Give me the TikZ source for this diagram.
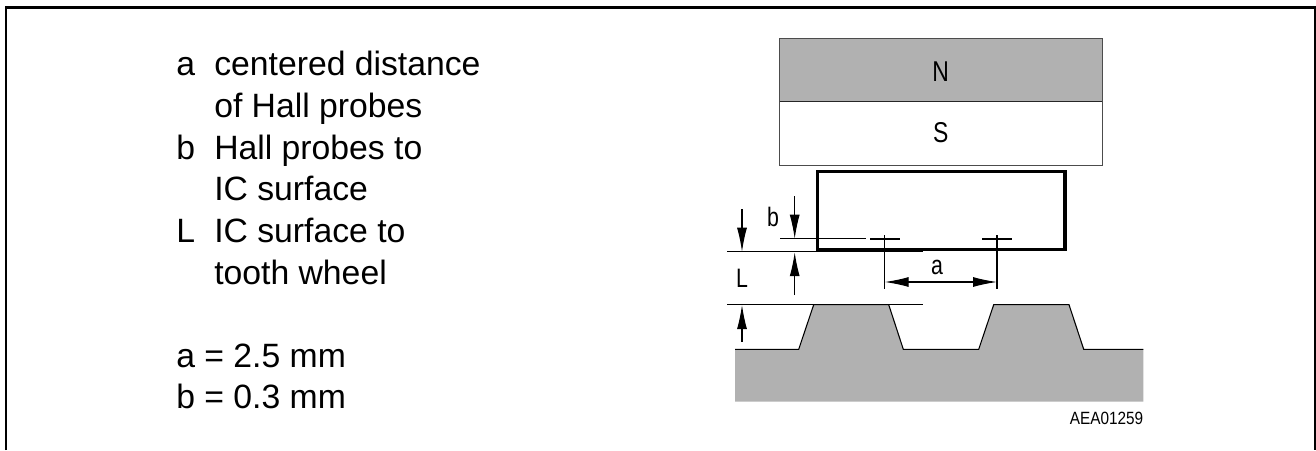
\documentclass[tikz,border=0pt]{standalone}
\usepackage{fontspec}
\setmainfont{Liberation Sans}
\usetikzlibrary{arrows.meta}
\definecolor{fillgray}{HTML}{B1B1B1}
\tikzset{
  legend/.style={anchor=base west,inner sep=0pt,font=\fontsize{25.3pt}{30pt}\selectfont},
  tag/.style={anchor=center,inner sep=0pt,transform shape,xscale=.8,font=\fontsize{20pt}{24pt}\selectfont},
  poletag/.style={anchor=center,inner sep=0pt,transform shape,xscale=.8,font=\fontsize{21.5pt}{26pt}\selectfont},
  code/.style={anchor=base east,inner sep=0pt,transform shape,xscale=.865,font=\fontsize{13.3pt}{16pt}\selectfont},
  thin line/.style={line width=.8pt,line cap=butt},
  dim/.style={thin line,-{Latex[length=18pt,width=7.5pt]}},
  dimboth/.style={thin line,{Latex[length=18pt,width=7.5pt]}-{Latex[length=18pt,width=7.5pt]}},
  magnet/.style={draw=black!70,line width=.7pt},
  icbox/.style={draw=black,line width=2.3pt},
}
\begin{document}
\begin{tikzpicture}[x=.75pt,y=-.75pt]
\useasboundingbox (0,0) rectangle (1316,450);
% frame, open at the bottom
\draw[line width=1.7pt,line join=miter] (6,450) -- (6,7.5) -- (1315,7.5) -- (1315,450);
% legend
\node[legend] (ka) at (176,75.7) {a};
\node[legend] (ta1) at (214,75.7) {centered distance};
\node[legend] (ta2) at (214,117.3) {of Hall probes};
\node[legend] (kb) at (176,159) {b};
\node[legend] (tb1) at (214,159) {Hall probes to};
\node[legend] (tb2) at (214,200.7) {IC surface};
\node[legend] (kl) at (176,242.7) {L};
\node[legend] (tl1) at (214,242.7) {IC surface to};
\node[legend] (tl2) at (214,284) {tooth wheel};
\node[legend] (va) at (176,367.7) {a = 2.5 mm};
\node[legend] (vb) at (176,408.7) {b = 0.3 mm};
% magnet
\draw[magnet,fill=fillgray] (779.5,38) rectangle (1102,101.7);
\draw[magnet,fill=white] (779.5,101.7) rectangle (1102,165.3);
\draw[line width=.9pt,black!85] (779.5,101.7) -- (1102,101.7);
\node[poletag] (n) at (940.7,71.5) {N};
\node[poletag] (s) at (940.7,133) {S};
% tooth wheel
\fill[fillgray] (735,349.3) -- (798.7,349.3) -- (813.7,304.7) -- (888.7,304.7) -- (903.3,349.3)
  -- (978.7,349.3) -- (993.7,304.7) -- (1069,304.7) -- (1083.7,349.3) -- (1143.3,349.3)
  -- (1143.3,401.7) -- (735,401.7) -- cycle;
\draw[thin line] (735,349.3) -- (798.7,349.3) -- (813.7,304.7) -- (888.7,304.7) -- (903.3,349.3)
  -- (978.7,349.3) -- (993.7,304.7) -- (1069,304.7) -- (1083.7,349.3) -- (1143.3,349.3);
% IC
\draw[icbox] (817.3,171.3) rectangle (1065,249.3);
% reference lines
\draw[thin line] (780,238.7) -- (865.7,238.7);
\draw[thin line] (727,251.7) -- (923,251.7);
\draw[thin line] (727,304.5) -- (923,304.5);
% probes
\draw[line width=1.3pt] (870,238.7) -- (900,238.7);
\draw[line width=1.3pt] (982.3,238.7) -- (1012.3,238.7);
\draw[thin line] (884.7,235.3) -- (884.7,289);
\draw[thin line] (997,235.3) -- (997,289);
% dimension arrows
\coordinate (a1) at (884.7,282);
\coordinate (a2) at (997,282);
\draw[dimboth] (a1) -- (a2);
\coordinate (bt) at (794.7,196);
\coordinate (bh) at (794.7,238.7);
\draw[dim] (bt) -- (bh);
\coordinate (ut) at (794.7,295);
\coordinate (uh) at (794.7,252.2);
\draw[dim] (ut) -- (uh);
\coordinate (lt) at (742,209.3);
\coordinate (lh) at (742,251.7);
\draw[dim] (lt) -- (lh);
\coordinate (dt) at (742,341.7);
\coordinate (dh) at (742,305);
\draw[dim] (dt) -- (dh);
% labels
\node[tag] (la) at (937,267) {a};
\node[tag] (lb) at (773,216.7) {b};
\node[tag] (ll) at (742,278) {L};
\node[code] (id) at (1143.5,424) {AEA01259};
\end{tikzpicture}
\end{document}
